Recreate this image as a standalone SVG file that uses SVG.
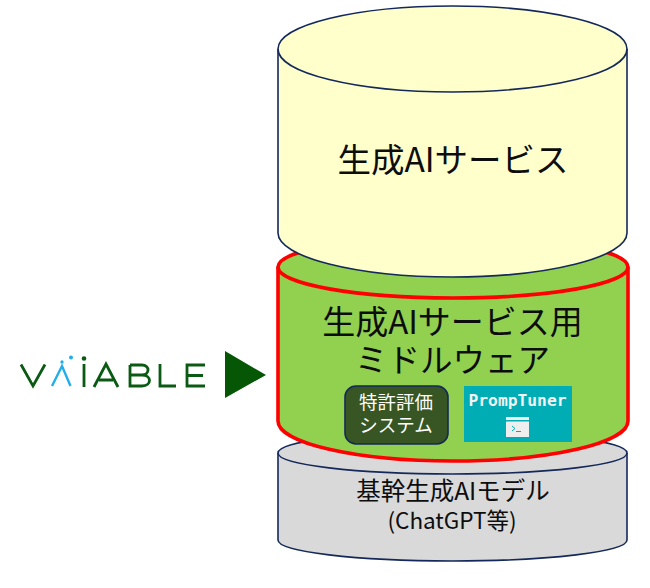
<svg xmlns="http://www.w3.org/2000/svg" width="650" height="588" viewBox="0 0 650 588">
<style>
text{font-family:"Noto Sans CJK JP","Noto Sans",sans-serif;text-anchor:middle}
.dk{fill:#0d0d0d}
.cyl{stroke:#14295a;stroke-width:1.6}
.red{stroke:#ff0000;stroke-width:3.6}
.logo{fill:none;stroke:#0b5a14;stroke-width:2.800}
.sky{fill:none;stroke:#22aeea;stroke-width:2.400}
</style>
<rect width="650" height="588" fill="#ffffff"/>
<g id="base-model">
<path class="cyl" d="M278 453V540C278 551.600 356 561 452.500 561S627 551.600 627 540V453C627 441.400 549 432 452.500 432S278 441.400 278 453Z" fill="#d9d9d9"/>
<path class="cyl" d="M278 453C278 464.600 356 474 452.500 474S627 464.600 627 453" fill="none"/>
<text class="dk" x="453" y="500" font-size="24.500">基幹生成AIモデル</text>
<text class="dk" x="452" y="529" font-size="22.500">(ChatGPT等)</text>
</g>
<g id="middleware">
<path class="red" d="M278 267V421C278 443 356 461 453 461S628 443 628 421V267C628 250 550 237 453 237S278 250 278 267Z" fill="#92d050"/>
<path class="red" d="M278 267C278 284 356 298 453 298S628 284 628 267" fill="none"/>
<text class="dk" x="452.500" y="334" font-size="33">生成AIサービス用</text>
<text class="dk" x="452.500" y="372" font-size="32.500">ミドルウェア</text>
</g>
<g id="patent-system">
<rect x="345" y="386" width="103" height="58" rx="11" fill="#375623" stroke="#14295a" stroke-width="1.6"/>
<text x="396" y="409" font-size="18.500" fill="#ffffff">特許評価</text>
<text x="396" y="432" font-size="18.500" fill="#ffffff">システム</text>
</g>
<g id="prompttuner">
<rect x="464" y="386" width="108" height="56" fill="#00adb5"/>
<text x="517.500" y="406" font-size="16.300" fill="#f2f2f2" style="font-family:'DejaVu Sans Mono','Liberation Mono',monospace;font-weight:bold">PrompTuner</text>
<rect x="506" y="417" width="23" height="20" fill="#eeeeee"/>
<rect x="506" y="420" width="23" height="1.500" fill="#00adb5"/>
<path d="M512 426l3 2.500-3 2.500M516 431.500h5" fill="none" stroke="#00adb5" stroke-width="1"/>
</g>
<g id="service">
<path class="cyl" d="M278 49V233C278 257 356 277 452.500 277S627 257 627 233V49C627 25 549 6 452.500 6S278 25 278 49Z" fill="#ffffcc"/>
<path class="cyl" d="M278 49C278 73 356 92 452.500 92S627 73 627 49" fill="none"/>
<text class="dk" x="453" y="172" font-size="33.500">生成AIサービス</text>
</g>
<g id="viaible-logo">
<path class="logo" d="M21 364.500L33 386L45 364.500"/>
<path class="sky" d="M52 386L62 366L70.500 386"/>
<circle cx="62" cy="362" r="1.700" fill="#22aeea"/>
<circle cx="71" cy="357.500" r="2" fill="#22aeea"/>
<circle cx="84" cy="358.500" r="2.300" fill="#0b5a14"/>
<path class="logo" d="M84 364V387"/>
<path class="logo" d="M94 387L106 364L118 387M99 380H113"/>
<path class="logo" d="M130 365H142C150 365 150 375 142 375H130M142 375C152 375 152 386 142 386H130V365"/>
<path class="logo" d="M160 364V386H176"/>
<path class="logo" d="M205 365H187V386H205M187 375.500H203"/>
</g>
<g id="connectors">
<path d="M225 351L266 375L225 398Z" fill="#055605"/>
</g>
</svg>
